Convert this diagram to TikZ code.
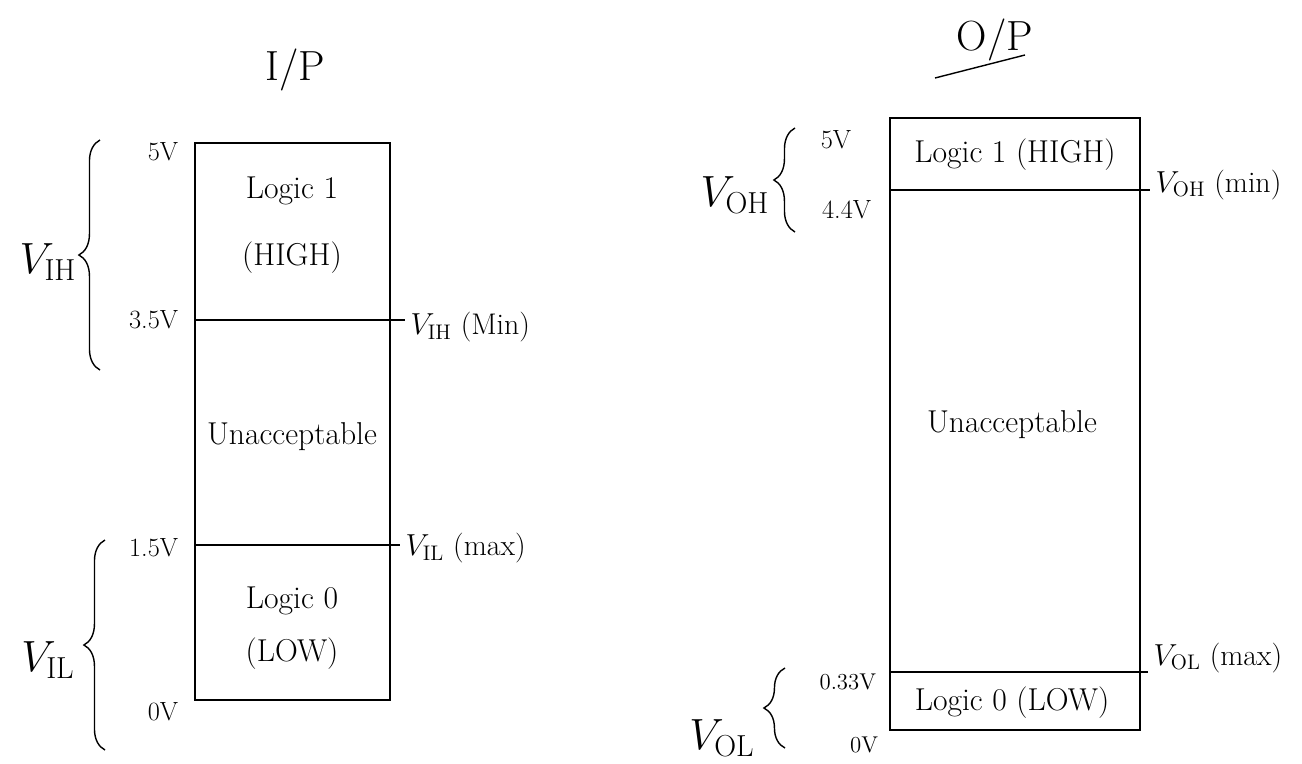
\documentclass[tikz,border=0pt]{standalone}
\usepackage{tikz}
\usetikzlibrary{decorations.pathreplacing}

\begin{document}
\begin{tikzpicture}[x=0.02cm, y=-0.02cm,
    band/.style={font=\fontsize{18}{24}\selectfont, align=center},
    level/.style={font=\fontsize{15}{18}\selectfont, anchor=east, inner sep=2pt},
    tag/.style={font=\fontsize{17}{20}\selectfont, anchor=west, inner sep=3pt},
    big/.style={font=\fontsize{24}{28}\selectfont},
    curly/.style={decorate, decoration={brace, amplitude=12pt}, thick},
    rail/.style={thick}
]
    \useasboundingbox (0,0) rectangle (1302,764);

    % input side
    \node[big] (ip) at (295,70) {I/P};
    \draw[rail] (195,143) rectangle (390,700);
    \coordinate (ihmin) at (195,320);
    \coordinate (ihend) at (405,320);
    \coordinate (ilmax) at (195,545);
    \coordinate (ilend) at (400,545);
    \draw[rail] (ihmin) -- (ihend);
    \draw[rail] (ilmax) -- (ilend);
    \node[tag] (vihmin) at ([yshift=-4pt]ihend) {$V_{\mathrm{IH}}$ (Min)};
    \node[tag] (vilmax) at ([yshift=-2pt]ilend) {$V_{\mathrm{IL}}$ (max)};

    \node[band] (high) at (292,225) {Logic 1\\[14pt](HIGH)};
    \node[band] (badin) at (292,437) {Unacceptable};
    \node[band] (low) at (292,628) {Logic 0\\[6pt](LOW)};

    \node[level] (i5) at (182,152) {5V};
    \node[level] (i35) at (182,320) {3.5V};
    \node[level] (i15) at (182,548) {1.5V};
    \node[level] (i0) at (182,712) {0V};

    \draw[curly] (100,370) -- (100,140);
    \draw[curly] (105,750) -- (105,540);
    \node[big] (vih) at (48,262) {$V_{\mathrm{IH}}$};
    \node[big] (vil) at (48,660) {$V_{\mathrm{IL}}$};

    % output side
    \node[big] (op) at (995,40) {O/P};
    \draw[rail] ([shift={(-60,38)}]op.center) -- ([shift={(30,15)}]op.center);
    \draw[rail] (890,118) rectangle (1140,730);
    \coordinate (ohmin) at (890,190);
    \coordinate (ohend) at (1150,190);
    \coordinate (olmax) at (890,672);
    \coordinate (olend) at (1148,672);
    \draw[rail] (ohmin) -- (ohend);
    \draw[rail] (olmax) -- (olend);
    \node[tag] (vohmin) at ([yshift=3pt]ohend) {$V_{\mathrm{OH}}$ (min)};
    \node[tag] (volmax) at ([yshift=8pt]olend) {$V_{\mathrm{OL}}$ (max)};

    \node[band] (ohigh) at (1015,155) {Logic 1 (HIGH)};
    \node[band] (badout) at (1012,425) {Unacceptable};
    \node[band] (olow) at (1012,703) {Logic 0 (LOW)};

    \node[level] (o5) at (855,140) {5V};
    \node[level] (o44) at (875,210) {4.4V};
    \node[level, font=\fontsize{13}{16}\selectfont] (o033) at (880,682) {0.33V};
    \node[level, font=\fontsize{13}{16}\selectfont] (o0) at (882,745) {0V};

    \draw[curly] (795,232) -- (795,128);
    \draw[curly] (785,748) -- (785,668);
    \node[big] (voh) at (735,195) {$V_{\mathrm{OH}}$};
    \node[big] (vol) at (722,738) {$V_{\mathrm{OL}}$};
\end{tikzpicture}
\end{document}
